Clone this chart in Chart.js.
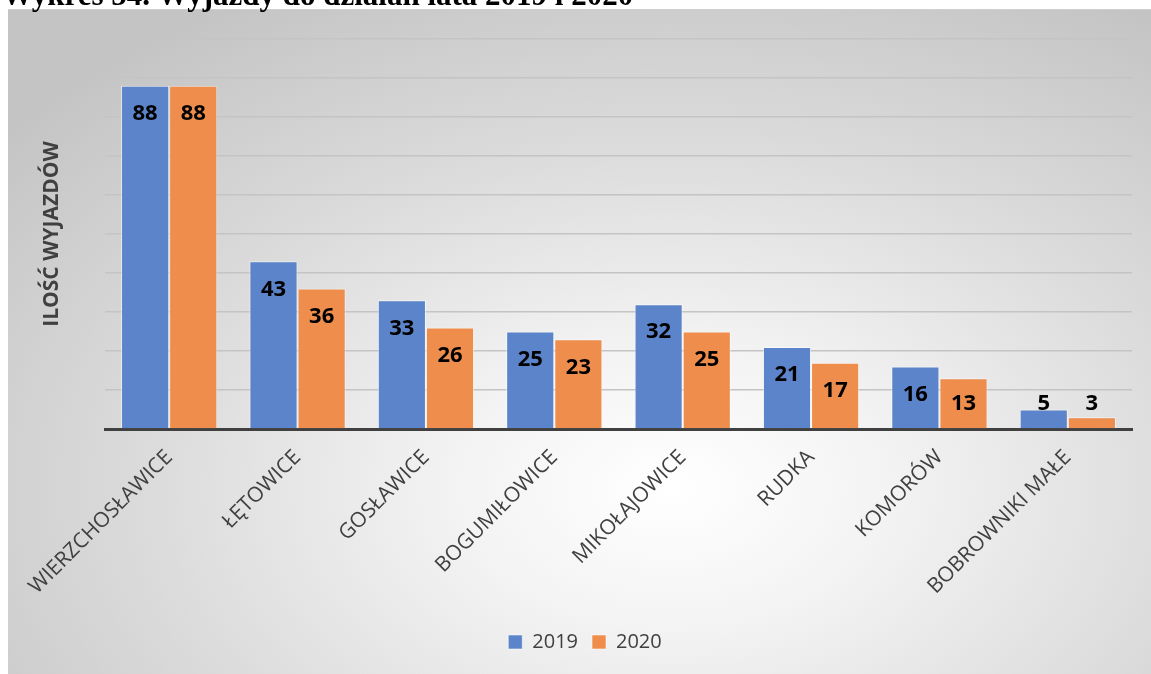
<!DOCTYPE html>
<html>
<head>
<meta charset="utf-8">
<script src="https://cdn.jsdelivr.net/npm/chart.js@4/dist/chart.umd.min.js"></script>
<style>
  html, body { margin: 0; padding: 0; background: #fff; }
  body { width: 1151px; height: 674px; position: relative; overflow: hidden; }
  .title {
    position: absolute; left: 2px; top: -21px; z-index: 2;
    font: bold 31px "Liberation Serif", "Times New Roman", serif;
    line-height: 31px; color: #000; white-space: nowrap;
  }
  .frame {
    position: absolute; left: 8px; top: 9px; width: 1143px; height: 665px;
    background: radial-gradient(ellipse 75% 85% at 58% 72%, #ffffff 0%, #f3f3f3 25%, #dcdcdc 60%, #c4c4c4 100%);
    border-top: 1px solid #cfcfcf; box-sizing: border-box;
  }
</style>
</head>
<body>
<div class="title">Wykres 54. Wyjazdy do działań lata 2019 i 2020</div>
<div class="frame"><canvas id="chart" width="1143" height="664"></canvas></div>
<script>
// ── Data ──
const categories = ['WIERZCHOSŁAWICE', 'ŁĘTOWICE', 'GOSŁAWICE', 'BOGUMIŁOWICE', 'MIKOŁAJOWICE', 'RUDKA', 'KOMORÓW', 'BOBROWNIKI MAŁE'];
const values2019 = [88, 43, 33, 25, 32, 21, 16, 5];
const values2020 = [88, 36, 26, 23, 25, 17, 13, 3];
const seriesNames = ['2019', '2020'];

const BLUE = '#5b84ca';
const ORANGE = '#ee8d4c';
const TEXT = '#404040';

/** Bold value labels, Excel "inside end" style */
const valueLabels = {
  id: 'valueLabels',
  afterDatasetsDraw(chart) {
    const ctx = chart.ctx;
    const base = chart.scales.y.getPixelForValue(0);
    ctx.save();
    ctx.font = 'bold 22px "Open Sans"';
    ctx.fillStyle = '#000';
    ctx.textAlign = 'center';
    ctx.textBaseline = 'middle';
    chart.data.datasets.forEach((ds, i) => {
      chart.getDatasetMeta(i).data.forEach((bar, j) => {
        const y = Math.min(bar.y + 28, base - 25);
        ctx.fillText(String(ds.data[j]), bar.x, y);
      });
    });
    ctx.restore();
  }
};

new Chart(document.getElementById('chart'), {
  type: 'bar',
  data: {
    labels: categories,
    datasets: [
      { label: seriesNames[0], data: values2019, backgroundColor: BLUE, borderColor: 'rgba(255,255,255,0.55)', borderWidth: 1 },
      { label: seriesNames[1], data: values2020, backgroundColor: ORANGE, borderColor: 'rgba(255,255,255,0.55)', borderWidth: 1 },
    ]
  },
  options: {
    responsive: false,
    animation: false,
    layout: { padding: { top: 29, right: 19, left: 30, bottom: 12 } },
    plugins: {
      tooltip: { enabled: false },
      legend: {
        position: 'bottom',
        labels: {
          color: TEXT,
          font: { family: 'Open Sans', size: 20 },
          boxWidth: 14, boxHeight: 14, padding: 14,
        }
      }
    },
    datasets: { bar: { barPercentage: 1, categoryPercentage: 0.75 } },
    scales: {
      x: {
        grid: { display: false },
        border: { display: true, color: TEXT, width: 3 },
        ticks: {
          color: TEXT, font: { family: 'Open Sans', size: 21 },
          minRotation: 45, maxRotation: 45, padding: 8, autoSkip: false,
        },
        afterFit: (s) => { s.height = 189; }
      },
      y: {
        min: 0, max: 100,
        ticks: { display: false, stepSize: 10 },
        border: { display: false },
        grid: {
          color: (c) => c.tick.value === 0 ? 'rgba(0,0,0,0)' : '#c4c4c4',
          lineWidth: 1.5, drawTicks: false,
        },
        title: {
          display: true, text: 'ILOŚĆ WYJAZDÓW', color: TEXT,
          font: { family: 'Open Sans', size: 21, weight: 'bold' },
          padding: { top: 1, bottom: 0 }
        },
        afterFit: (s) => { s.width = 67; }
      }
    }
  },
  plugins: [valueLabels]
});
</script>
</body>
</html>
